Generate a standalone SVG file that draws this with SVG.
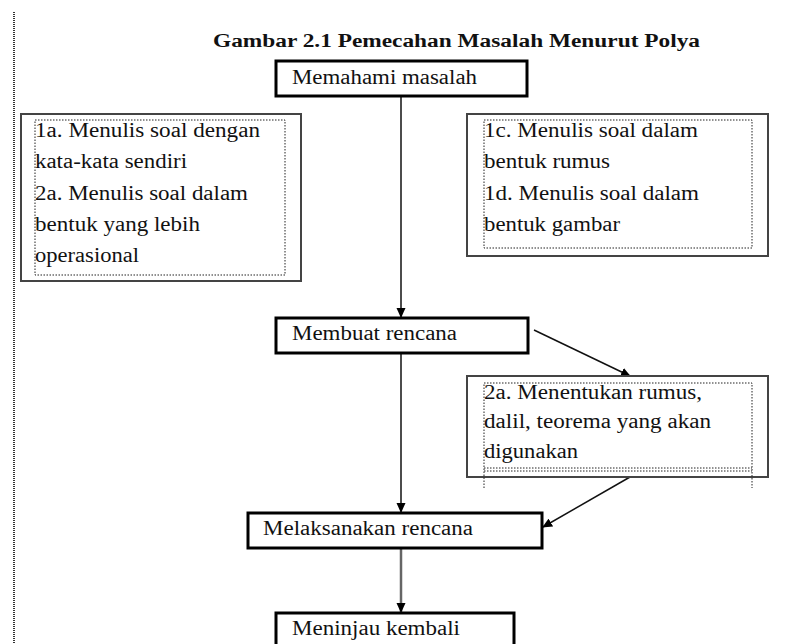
<svg xmlns="http://www.w3.org/2000/svg" width="801" height="644" viewBox="0 0 801 644">
<style>
text{font-family:"Liberation Serif","Times New Roman",serif;font-size:20px;fill:#111}
.title{font-weight:bold;font-size:18px}
.main{fill:#fff;stroke:#000;stroke-width:3}
.outer{fill:#fff;stroke:#444;stroke-width:2}
.inner{fill:none;stroke:#222;stroke-width:1;stroke-dasharray:1.5 1.5}
.conn{stroke:#111;stroke-width:1.5;fill:none}
</style>
<defs>
<marker id="ah" markerWidth="10" markerHeight="10" refX="9" refY="5" orient="auto" markerUnits="userSpaceOnUse">
<path d="M0,0.5 L10,5 L0,9.5 Z" fill="#000"/>
</marker>
</defs>
<line x1="14" y1="12" x2="14" y2="644" stroke="#333" stroke-width="2" stroke-dasharray="1 1"/>
<text class="title" x="213" y="47" textLength="487" lengthAdjust="spacingAndGlyphs">Gambar 2.1 Pemecahan Masalah Menurut Polya</text>
<g id="connectors">
<line class="conn" x1="401" y1="97" x2="401" y2="317" marker-end="url(#ah)"/>
<line class="conn" x1="401" y1="353" x2="401" y2="512" marker-end="url(#ah)"/>
<line x1="401" y1="548" x2="401" y2="612" stroke="#666" stroke-width="2.5" marker-end="url(#ah)"/>
<line class="conn" x1="534" y1="330" x2="630" y2="376" marker-end="url(#ah)"/>
<line class="conn" x1="630" y1="477" x2="543" y2="527" marker-end="url(#ah)"/>
</g>
<g id="memahami">
<rect class="main" x="276" y="61" width="251" height="35"/>
<text x="292" y="84" textLength="185" lengthAdjust="spacingAndGlyphs">Memahami masalah</text>
</g>
<g id="left-note">
<rect class="outer" x="21" y="114" width="280" height="167"/>
<rect class="inner" x="35" y="120" width="250" height="155"/>
<text x="35" y="137" textLength="225" lengthAdjust="spacingAndGlyphs">1a. Menulis soal dengan</text>
<text x="35" y="168" textLength="152" lengthAdjust="spacingAndGlyphs">kata-kata sendiri</text>
<text x="35" y="200" textLength="213" lengthAdjust="spacingAndGlyphs">2a. Menulis soal dalam</text>
<text x="35" y="231" textLength="165" lengthAdjust="spacingAndGlyphs">bentuk yang lebih</text>
<text x="35" y="262" textLength="104" lengthAdjust="spacingAndGlyphs">operasional</text>
</g>
<g id="right-note">
<rect class="outer" x="467" y="114" width="301" height="142"/>
<rect class="inner" x="484" y="120" width="268" height="128"/>
<text x="484" y="137" textLength="214" lengthAdjust="spacingAndGlyphs">1c. Menulis soal dalam</text>
<text x="484" y="168" textLength="126" lengthAdjust="spacingAndGlyphs">bentuk rumus</text>
<text x="484" y="200" textLength="215" lengthAdjust="spacingAndGlyphs">1d. Menulis soal dalam</text>
<text x="484" y="231" textLength="136" lengthAdjust="spacingAndGlyphs">bentuk gambar</text>
</g>
<g id="membuat">
<rect class="main" x="276" y="318" width="252" height="35"/>
<text x="292" y="340" textLength="165" lengthAdjust="spacingAndGlyphs">Membuat rencana</text>
</g>
<g id="plan-note">
<rect class="outer" x="467" y="376" width="301" height="101"/>
<path class="inner" d="M484,488 V383 H752 V488 M484,468 H752 M484,471 H752"/>
<text x="484" y="399" textLength="218" lengthAdjust="spacingAndGlyphs">2a. Menentukan rumus,</text>
<text x="484" y="428" textLength="227" lengthAdjust="spacingAndGlyphs">dalil, teorema yang akan</text>
<text x="484" y="458" textLength="94" lengthAdjust="spacingAndGlyphs">digunakan</text>
</g>
<g id="melaksanakan">
<rect class="main" x="248" y="513" width="294" height="35"/>
<text x="263" y="535" textLength="210" lengthAdjust="spacingAndGlyphs">Melaksanakan rencana</text>
</g>
<g id="meninjau">
<rect class="main" x="276" y="613" width="238" height="40"/>
<text x="292" y="635" textLength="168" lengthAdjust="spacingAndGlyphs">Meninjau kembali</text>
</g>
</svg>
